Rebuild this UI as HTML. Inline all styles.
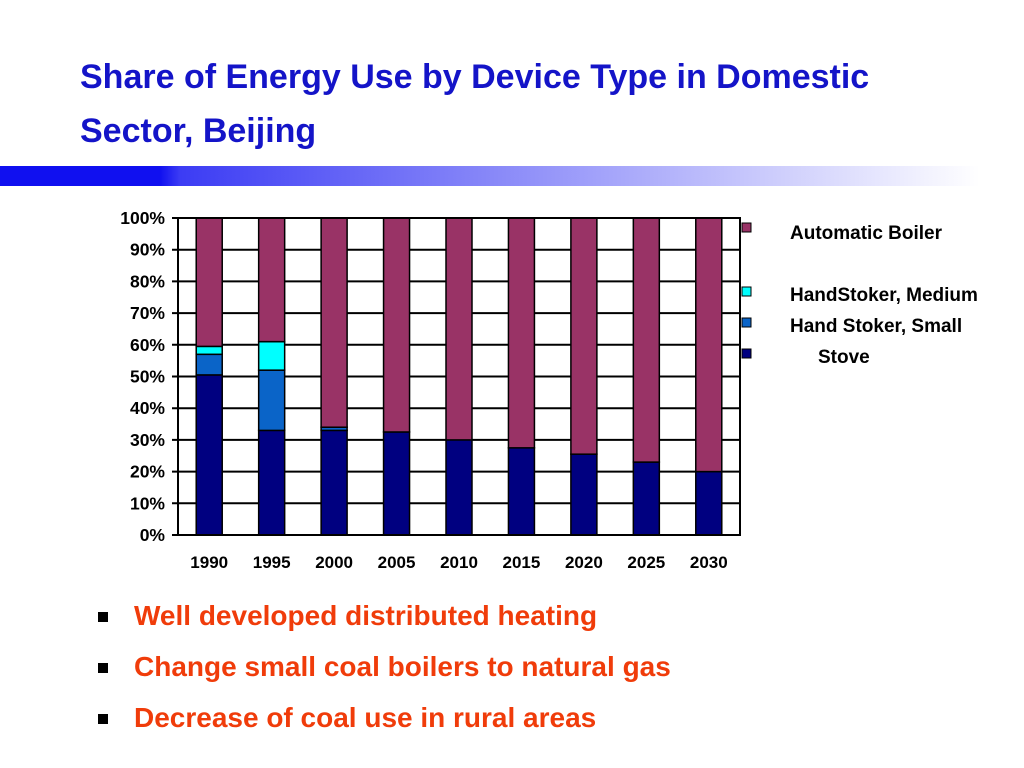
<!DOCTYPE html>
<html><head><meta charset="utf-8"><style>
body{margin:0;width:1024px;height:768px;background:#fff;font-family:"Liberation Sans",Arial,sans-serif;position:relative;overflow:hidden}
.title{position:absolute;left:80px;top:50px;color:#1414c8;font-size:34px;font-weight:bold;line-height:54px;white-space:nowrap}
.band{position:absolute;left:0;top:166px;width:1000px;height:20px;background:linear-gradient(to right,#1010f0 0%,#1010f0 16%,#3c3cf4 18%,#fff 98%)}
.bul{position:absolute;left:98px;font-size:28px;font-weight:bold;color:#f03c0a;line-height:32px}
.bul span.sq{position:absolute;left:0;top:12px;width:10px;height:10px;background:#000}
.bul span.t{position:absolute;left:36px;white-space:nowrap}
</style></head><body>
<div class="title">Share of Energy Use by Device Type in Domestic<br>Sector, Beijing</div>
<div class="band"></div>
<svg id="chart" width="1024" height="600" style="position:absolute;left:0;top:0"></svg>
<div class="bul" style="top:600px"><span class="sq"></span><span class="t">Well developed distributed heating</span></div>
<div class="bul" style="top:651px"><span class="sq"></span><span class="t">Change small coal boilers to natural gas</span></div>
<div class="bul" style="top:702px"><span class="sq"></span><span class="t">Decrease of coal use in rural areas</span></div>
<script>
const years=["1990","1995","2000","2005","2010","2015","2020","2025","2030"];
const stove=[50.5,33,33,32.5,30,27.5,25.5,23,20];
const handSmall=[6.5,19,1,0,0,0,0,0,0];
const handMedium=[2.5,9,0,0,0,0,0,0,0];
const yTicks=[0,10,20,30,40,50,60,70,80,90,100];
const seriesNames=["Stove","Hand Stoker, Small","HandStoker, Medium","Automatic Boiler"];
const colors=["#000080","#0a64c8","#00ffff","#993366"];
const NS="http://www.w3.org/2000/svg";
const svg=document.getElementById("chart");
const x0=178,x1=740,y0=535,y1=218;
const yS=v=>y0-(v/100)*(y0-y1);
const step=(x1-x0)/years.length;
const xC=i=>x0+step*(i+0.5);
function mk(t,a){const e=document.createElementNS(NS,t);for(const k in a)e.setAttribute(k,a[k]);svg.appendChild(e);return e;}
yTicks.forEach(v=>{
 const l=mk("line",{x1:x0-6,x2:x1,y1:yS(v),y2:yS(v),stroke:"#000","stroke-width":2});
 
 
 const t=mk("text",{x:x0-13,y:yS(v)+6,"text-anchor":"end","font-size":17.5,"font-weight":"bold","font-family":"Liberation Sans, sans-serif"});
 t.textContent=v+"%";
 
 
});
years.forEach((y,i)=>{
 const vals=[stove[i],handSmall[i],handMedium[i]];
 vals.push(100-vals.reduce((a,b)=>a+b,0));
 let acc=0;
 vals.forEach((v,s)=>{
  if(v<=0)return;
  const r=mk("rect",{x:xC(i)-13,y:yS(acc+v),width:26,height:yS(acc)-yS(acc+v),fill:colors[s],stroke:"#000","stroke-width":1.5});
  
  
  acc+=v;
 });
 const t=mk("text",{x:xC(i),y:568,"text-anchor":"middle","font-size":17,"font-weight":"bold","font-family":"Liberation Sans, sans-serif"});
 t.textContent=y;
 
 
});
const ax=mk("rect",{x:x0,y:y1,width:x1-x0,height:y0-y1,fill:"none",stroke:"#000","stroke-width":2});


const leg=[[3,790,226,236],[2,790,288,300],[1,790,319,331],[0,818,350,362]];
leg.forEach(([s,tx,ty,sy])=>{
 const r=mk("rect",{x:742,y:sy-13,width:9,height:9,fill:colors[s],stroke:"#000","stroke-width":1});
 
 
 const t=mk("text",{x:tx,y:ty+13,"font-size":19,"font-weight":"bold","font-family":"Liberation Sans, sans-serif"});
 t.textContent=seriesNames[s];
 
 
});
</script>
</body></html>
